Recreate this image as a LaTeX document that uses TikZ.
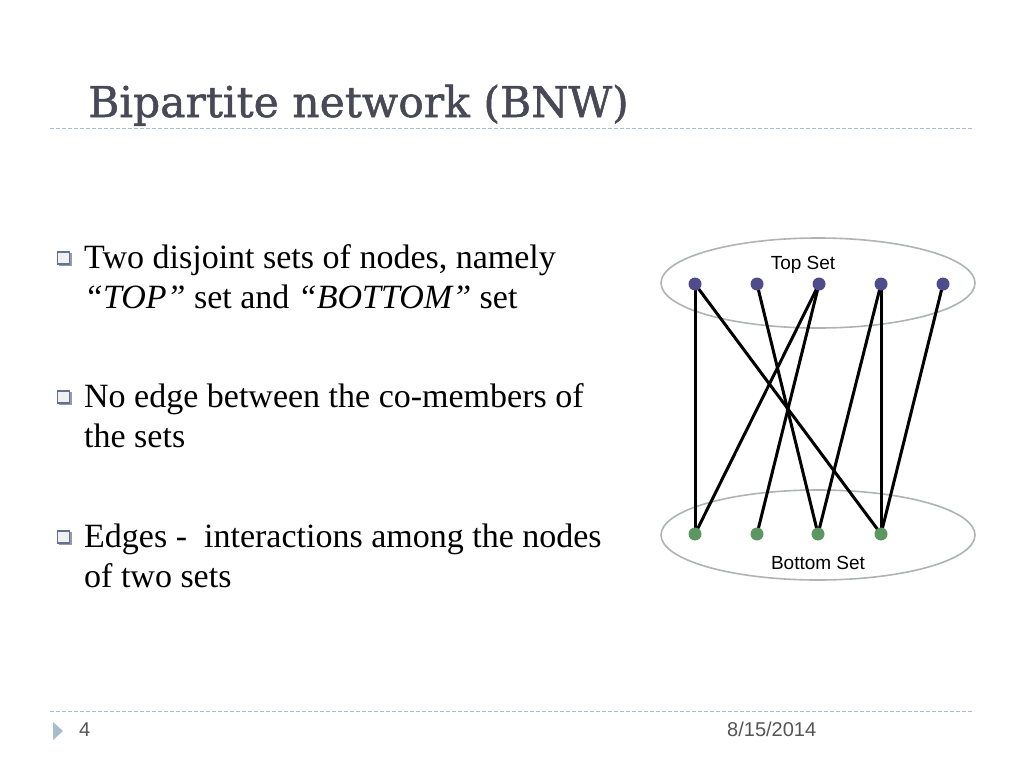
\documentclass[tikz,border=0pt]{standalone}
\usepackage{fontspec}
\usetikzlibrary{shapes.geometric}
\setmainfont{Liberation Serif}
\newfontfamily\titlefont{DejaVu Serif}[FakeBold=1.2]
\newfontfamily\sansf{Liberation Sans}
\definecolor{titlecol}{RGB}{72,72,86}
\definecolor{rulecol}{RGB}{168,188,208}
\definecolor{footcol}{RGB}{85,85,85}
\definecolor{topnode}{RGB}{78,76,138}
\definecolor{botnode}{RGB}{92,150,96}
\definecolor{ellcol}{RGB}{175,180,178}
\definecolor{bulletcol}{RGB}{100,112,145}
\begin{document}
\begin{tikzpicture}[x=1pt,y=-1pt,
  body/.style={anchor=base west,inner sep=0pt,font=\fontsize{34}{40}\selectfont},
  foot/.style={anchor=base west,inner sep=0pt,text=footcol,font=\sansf\fontsize{20}{24}\selectfont},
  rulestyle/.style={draw=rulecol,line width=1pt,dash pattern=on 4pt off 2pt},
  tnode/.style={circle,fill=topnode,minimum size=12pt,inner sep=0pt},
  bnode/.style={circle,fill=botnode,minimum size=12pt,inner sep=0pt},
  edge/.style={draw=black,line width=3pt},
  setell/.style={draw=ellcol,line width=1.6pt,ellipse,minimum width=314pt,minimum height=90pt,inner sep=0pt},
  setlabel/.style={inner sep=0pt,font=\sansf\fontsize{19}{21}\selectfont},
  bulletbox/.style={draw=bulletcol,line width=1.2pt,fill=gray!12,minimum size=12pt,inner sep=0pt}
]
\useasboundingbox (0,0) rectangle (1024,768);
\fill[white] (0,0) rectangle (1024,768);

% title
\node[anchor=base west,inner sep=0pt,text=titlecol,font=\titlefont\fontsize{42.5}{48}\selectfont] (title) at (88,117) {Bipartite network (BNW)};
\coordinate (r1a) at (50,128);
\coordinate (r1b) at (972,128);
\draw[rulestyle] (r1a) -- (r1b);

% bullets
\foreach \y/\n in {258/b1,397/b2,537/b3}{
  \fill[bulletcol!70] (58.5,\y-5.5) rectangle (71.5,\y+7.5);
  \node[bulletbox] (\n) at (63.5,\y) {};
}
\node[body] (t1a) at (84,268) {Two disjoint sets of nodes, namely};
\node[body] (t1b) at (84,308) {\textit{“TOP”} set and \textit{“BOTTOM”} set};
\node[body] (t2a) at (84,407) {No edge between the co-members of};
\node[body] (t2b) at (84,447) {the sets};
\node[body] (t3a) at (84,547) {Edges -\ \ interactions among the nodes};
\node[body] (t3b) at (84,587) {of two sets};

% graph
\node[setell] (topset) at (818,283) {};
\node[setell] (botset) at (818,535) {};
\node[setlabel] (toplab) at (803,265) {Top Set};
\node[setlabel] (botlab) at (818,563) {Bottom Set};

\node[tnode] (T1) at (695,284) {};
\node[tnode] (T2) at (757,284) {};
\node[tnode] (T3) at (819,284) {};
\node[tnode] (T4) at (881,284) {};
\node[tnode] (T5) at (943,284) {};
\node[bnode] (B1) at (695,534) {};
\node[bnode] (B2) at (757,534) {};
\node[bnode] (B3) at (818,534) {};
\node[bnode] (B4) at (881,534) {};

\draw[edge] (T1.center) -- (B1.center);
\draw[edge] (T1.center) -- (B4.center);
\draw[edge] (T2.center) -- (B3.center);
\draw[edge] (T3.center) -- (B1.center);
\draw[edge] (T3.center) -- (B2.center);
\draw[edge] (T4.center) -- (B3.center);
\draw[edge] (T4.center) -- (B4.center);
\draw[edge] (T5.center) -- (B4.center);

\foreach \n in {T1,T2,T3,T4,T5}{\fill[topnode] (\n) circle (6.5pt);}
\foreach \n in {B1,B2,B3,B4}{\fill[botnode] (\n) circle (6.5pt);}

% footer
\coordinate (r2a) at (50,711);
\coordinate (r2b) at (972,711);
\draw[rulestyle] (r2a) -- (r2b);
\fill[rulecol] (53,722) -- (63,731) -- (53,740) -- cycle;
\node[foot] (pagenum) at (79,736) {4};
\node[foot] (date) at (727,736) {8/15/2014};
\end{tikzpicture}
\end{document}
